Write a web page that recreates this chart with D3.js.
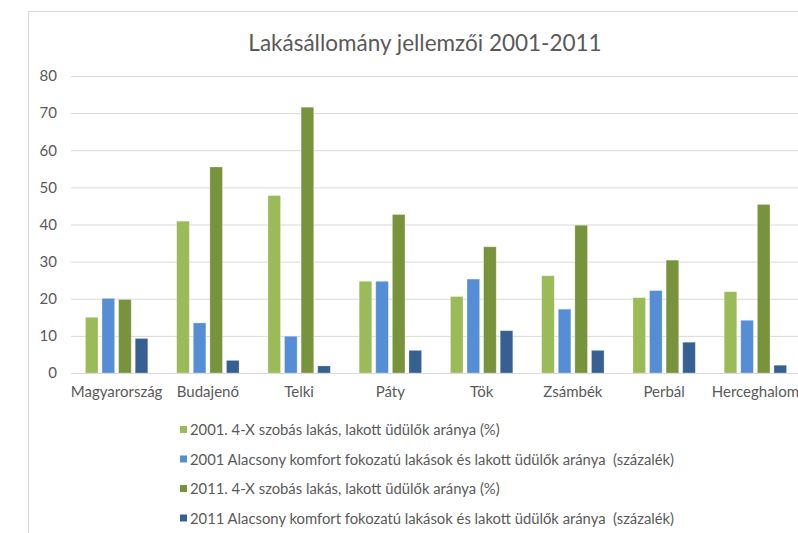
<!DOCTYPE html>
<html>
<head>
<meta charset="utf-8">
<script src="https://cdn.jsdelivr.net/npm/d3@7"></script>
<style>
  html, body { margin: 0; padding: 0; background: #fff; overflow: hidden; }
  svg { display: block; font-family: Lato, "Noto Sans", sans-serif; }
  text { white-space: pre; }
</style>
</head>
<body>
<svg id="chart" width="798" height="533"></svg>
<script>
// Settlements shown along the x axis
const categories = ["Magyarország", "Budajenő", "Telki", "Páty", "Tök", "Zsámbék", "Perbál", "Herceghalom"];

// Series names (legend order)
const seriesNames = [
  "2001. 4-X szobás lakás, lakott üdülők aránya (%)",
  "2001 Alacsony komfort fokozatú lakások és lakott üdülők aránya  (százalék)",
  "2011. 4-X szobás lakás, lakott üdülők aránya (%)",
  "2011 Alacsony komfort fokozatú lakások és lakott üdülők aránya  (százalék)"
];

// Values per series, one per settlement
const rooms2001   = [15.0, 40.9, 47.8, 24.7, 20.6, 26.2, 20.3, 21.9];
const lowComf2001 = [20.1, 13.5,  9.9, 24.7, 25.3, 17.2, 22.2, 14.2];
const rooms2011   = [19.8, 55.5, 71.6, 42.7, 34.0, 39.8, 30.4, 45.4];
const lowComf2011 = [ 9.3,  3.4,  1.9,  6.1, 11.4,  6.1,  8.3,  2.1];

const yTicks = [0, 10, 20, 30, 40, 50, 60, 70, 80];
const seriesColors = ["#9BBB59", "#558ED5", "#77933C", "#376092"];

const seriesValues = [rooms2001, lowComf2001, rooms2011, lowComf2011];
const rows = categories.map((c, i) => ({
  category: c,
  values: seriesValues.map((s, k) => ({ key: k, value: s[i] }))
}));

const svg = d3.select("#chart");
const textColor = "#595959";
const gridColor = "#D9D9D9";
const fontStack = "Lato, 'Noto Sans', sans-serif";

// Chart frame (left and top edges)
svg.append("path")
  .attr("d", "M28.5,533 L28.5,11.5 L798,11.5")
  .attr("fill", "none")
  .attr("stroke", gridColor)
  .attr("stroke-width", 1);

// Title
svg.append("text")
  .attr("x", 425)
  .attr("y", 51)
  .attr("text-anchor", "middle")
  .attr("font-size", 22.5)
  .attr("fill", textColor)
  .text("Lakásállomány jellemzői 2001-2011");

// Scales
const plotLeft = 71, plotRight = 801;
const x0 = d3.scaleBand().domain(categories).range([plotLeft, plotRight]).padding(0);
const y = d3.scaleLinear().domain([0, 80]).range([373, 76]);
const groupHalf = 31.2;
const x1 = d3.scaleBand().domain(d3.range(seriesNames.length))
  .range([-groupHalf, groupHalf]).paddingInner(0.24).paddingOuter(0);

// Horizontal gridlines and y labels
const yAxis = d3.axisLeft(y).tickValues(yTicks).tickSize(-(plotRight - plotLeft)).tickPadding(14);
const yG = svg.append("g").attr("transform", `translate(${plotLeft},0)`).call(yAxis);
yG.select(".domain").remove();
yG.selectAll(".tick line").attr("stroke", gridColor).attr("stroke-width", 1);
yG.selectAll(".tick text")
  .attr("fill", textColor)
  .attr("font-size", 15)
  .attr("font-family", fontStack);

// Bars
const groups = svg.append("g").selectAll("g")
  .data(rows)
  .join("g")
  .attr("transform", d => `translate(${x0(d.category) + x0.bandwidth() / 2},0)`);

groups.selectAll("rect")
  .data(d => d.values)
  .join("rect")
  .attr("x", d => x1(d.key))
  .attr("width", x1.bandwidth())
  .attr("y", d => y(d.value))
  .attr("height", d => y(0) - y(d.value))
  .attr("fill", d => seriesColors[d.key])
  .attr("stroke", "#ffffff")
  .attr("stroke-opacity", 0.35)
  .attr("stroke-width", 0.8);

// Category axis
const xAxis = d3.axisBottom(x0).tickSize(0).tickPadding(13);
const xG = svg.append("g").attr("transform", `translate(0,${y(0)})`).call(xAxis);
xG.select(".domain").attr("stroke", gridColor).attr("d", `M${plotLeft},0.5H${plotRight}`);
xG.selectAll(".tick text")
  .attr("fill", textColor)
  .attr("font-size", 15)
  .attr("font-family", fontStack);

// Legend
const legend = svg.append("g").selectAll("g")
  .data(seriesNames)
  .join("g")
  .attr("transform", (d, i) => `translate(180,${430 + i * 29.5})`);
legend.append("rect")
  .attr("x", 0).attr("y", -4)
  .attr("width", 7).attr("height", 7)
  .attr("fill", (d, i) => seriesColors[i]);
legend.append("text")
  .attr("x", 10)
  .attr("y", 0)
  .attr("dy", "0.35em")
  .attr("font-size", 14.8)
  .attr("fill", textColor)
  .text(d => d);
</script>
</body>
</html>
